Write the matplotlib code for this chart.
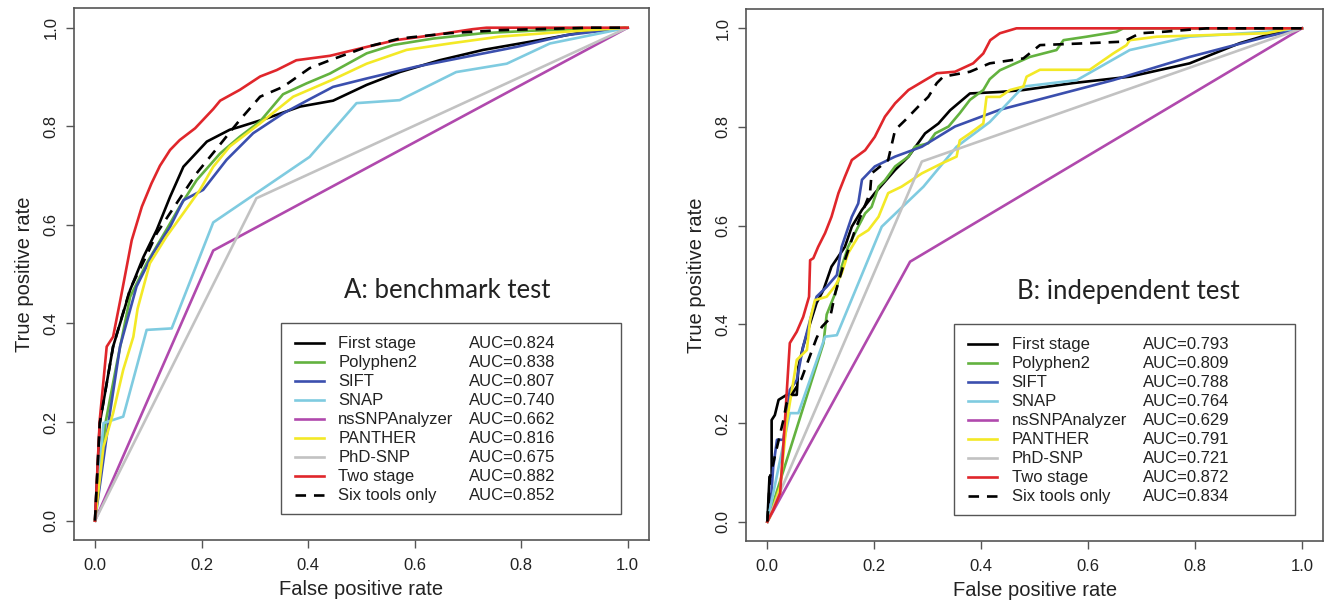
"""ROC curves for the two-stage predictor vs. single tools (benchmark and independent tests)."""

import matplotlib

matplotlib.use("Agg")

import matplotlib.pyplot as plt
from matplotlib.patches import Rectangle

plt.rcParams["font.family"] = ["Liberation Sans", "DejaVu Sans"]

METHODS = ["First stage", "Polyphen2", "SIFT", "SNAP", "nsSNPAnalyzer",
           "PANTHER", "PhD-SNP", "Two stage", "Six tools only"]
COLORS = ["black", "#63b23f", "#3b4fae", "#7fcbe0", "#b049ad",
          "#f3e926", "#c2c2c2", "#e0262b", "black"]
STYLES = ["-", "-", "-", "-", "-", "-", "-", "-", "--"]

AUC_A = [0.824, 0.838, 0.807, 0.740, 0.662, 0.816, 0.675, 0.882, 0.852]
AUC_B = [0.793, 0.809, 0.788, 0.764, 0.629, 0.791, 0.721, 0.872, 0.834]

# ---- panel A: benchmark test ----
a_first_fpr = [0, .009, .034, .066, .091, .116, .141, .166, .21, .253, .272, .322, .385, .447, .51, .572, .647, .729, .835, .922, 1]
a_first_tpr = [0, .198, .353, .468, .535, .590, .657, .718, .769, .793, .799, .816, .840, .852, .884, .910, .934, .955, .975, .992, 1]
a_poly_fpr = [0, .02, .041, .066, .097, .134, .159, .191, .235, .272, .31, .353, .397, .441, .51, .56, .635, .729, .822, 1]
a_poly_tpr = [0, .2, .319, .454, .522, .590, .637, .691, .745, .779, .81, .865, .887, .907, .948, .965, .978, .989, .994, 1]
a_sift_fpr = [0, .028, .047, .078, .109, .141, .166, .203, .247, .297, .353, .403, .447, .51, .603, .697, .791, .885, 1]
a_sift_tpr = [0, .218, .353, .475, .542, .596, .65, .671, .732, .786, .826, .855, .880, .897, .921, .941, .961, .985, 1]
a_snap_fpr = [0, .016, .053, .097, .144, .222, .403, .491, .572, .678, .773, .854, 1]
a_snap_tpr = [0, .198, .211, .387, .39, .605, .738, .847, .853, .910, .927, .968, 1]
a_nssnp_fpr = [0, .222, 1]
a_nssnp_tpr = [0, .548, 1]
a_panther_fpr = [0, .016, .034, .053, .072, .08, .103, .134, .166, .197, .222, .253, .31, .372, .447, .51, .585, .666, .76, .885, 1]
a_panther_tpr = [0, .15, .218, .306, .373, .43, .522, .576, .624, .671, .718, .759, .806, .86, .895, .927, .955, .968, .982, .992, 1]
a_phd_fpr = [0, .303, 1]
a_phd_tpr = [0, .654, 1]
a_two_fpr = [0, .009, .022, .034, .05, .069, .088, .106, .122, .141, .159, .188, .222, .235, .272, .31, .341, .378, .441, .51, .566, .635, .709, .735, 1]
a_two_tpr = [0, .205, .353, .373, .461, .569, .637, .684, .72, .752, .772, .796, .835, .852, .874, .901, .914, .934, .943, .961, .975, .985, .997, 1, 1]
a_six_fpr = [0, .009, .034, .066, .10, .116, .141, .191, .228, .272, .31, .353, .403, .441, .51, .572, .666, .76, .929, 1]
a_six_tpr = [0, .198, .353, .47, .545, .583, .624, .705, .754, .813, .86, .880, .918, .934, .961, .978, .989, .995, 1, 1]

# ---- panel B: independent test ----
b_first_fpr = [0, .004, .008, .008, .014, .021, .036, .055, .058, .067, .08, .092, .105, .12, .145, .158, .177, .201, .239, .264, .295, .32, .342, .379, .435, .479, .572, .678, .79, .884, .946, 1]
b_first_tpr = [0, .091, .091, .206, .216, .247, .257, .257, .314, .355, .402, .443, .47, .517, .557, .598, .632, .666, .713, .74, .787, .807, .834, .868, .871, .875, .889, .902, .929, .97, .99, 1]
b_poly_fpr = [0, .105, .111, .127, .139, .151, .17, .183, .195, .208, .22, .239, .264, .276, .301, .314, .339, .36, .379, .404, .416, .435, .491, .541, .554, .597, .653, .666, 1]
b_poly_tpr = [0, .362, .42, .463, .517, .557, .598, .625, .638, .679, .692, .72, .74, .76, .767, .787, .801, .828, .855, .875, .897, .915, .942, .956, .976, .983, .993, 1, 1]
b_sift_fpr = [0, .005, .011, .018, .03, .042, .055, .067, .08, .092, .111, .13, .139, .158, .17, .177, .201, .239, .289, .351, .435, .647, .79, .934, 1]
b_sift_tpr = [0, .017, .111, .166, .166, .267, .287, .355, .409, .456, .476, .50, .557, .618, .645, .693, .72, .74, .76, .801, .835, .895, .942, .983, 1]
b_snap_fpr = [0, .042, .058, .108, .13, .214, .292, .354, .416, .479, .579, .678, .79, .934, 1]
b_snap_tpr = [0, .22, .22, .375, .378, .598, .679, .76, .81, .882, .895, .956, .983, .993, 1]
b_nssnp_fpr = [0, .267, 1]
b_nssnp_tpr = [0, .527, 1]
b_panther_fpr = [0, .005, .024, .036, .049, .055, .074, .08, .089, .111, .127, .139, .151, .17, .189, .208, .226, .251, .289, .326, .354, .36, .379, .404, .41, .435, .454, .479, .485, .51, .603, .647, .672, .678, .728, .934, .978, 1]
b_panther_tpr = [0, .01, .071, .2, .287, .328, .348, .409, .449, .456, .478, .503, .544, .578, .591, .618, .666, .679, .706, .726, .74, .773, .787, .807, .861, .861, .875, .882, .902, .916, .916, .949, .966, .976, .983, .99, 1, 1]
b_phd_fpr = [0, .289, 1]
b_phd_tpr = [0, .73, 1]
b_two_fpr = [0, .011, .024, .033, .042, .055, .067, .078, .08, .086, .095, .108, .12, .133, .145, .158, .183, .201, .22, .239, .264, .295, .317, .351, .385, .404, .417, .435, .466, 1]
b_two_tpr = [0, .024, .058, .206, .362, .385, .415, .456, .53, .534, .557, .585, .618, .666, .699, .733, .753, .78, .821, .848, .875, .895, .909, .912, .929, .949, .976, .99, 1, 1]
b_six_fpr = [0, .005, .03, .036, .064, .092, .102, .117, .127, .145, .164, .192, .195, .226, .239, .258, .282, .301, .317, .329, .379, .416, .479, .51, .603, .666, .697, .741, .822, 1]
b_six_tpr = [0, .091, .206, .24, .29, .372, .395, .412, .463, .53, .591, .666, .706, .733, .794, .814, .841, .861, .889, .902, .912, .929, .939, .966, .97, .973, .99, .993, 1, 1]

CURVES_A = [(a_first_fpr, a_first_tpr), (a_poly_fpr, a_poly_tpr), (a_sift_fpr, a_sift_tpr),
            (a_snap_fpr, a_snap_tpr), (a_nssnp_fpr, a_nssnp_tpr), (a_panther_fpr, a_panther_tpr),
            (a_phd_fpr, a_phd_tpr), (a_two_fpr, a_two_tpr), (a_six_fpr, a_six_tpr)]
CURVES_B = [(b_first_fpr, b_first_tpr), (b_poly_fpr, b_poly_tpr), (b_sift_fpr, b_sift_tpr),
            (b_snap_fpr, b_snap_tpr), (b_nssnp_fpr, b_nssnp_tpr), (b_panther_fpr, b_panther_tpr),
            (b_phd_fpr, b_phd_tpr), (b_two_fpr, b_two_tpr), (b_six_fpr, b_six_tpr)]

TICKS = [0.0, 0.2, 0.4, 0.6, 0.8, 1.0]
SPINE = "#555555"


def draw_panel(ax, curves, aucs, title):
    for (fpr, tpr), color, ls in zip(curves, COLORS, STYLES):
        ax.plot(fpr, tpr, color=color, ls=ls, lw=1.9,
                dashes=(4, 3) if ls == "--" else (None, None))
    ax.set_xlim(-0.04, 1.04)
    ax.set_ylim(-0.04, 1.04)
    ax.set_xticks(TICKS)
    ax.set_yticks(TICKS)
    ax.set_xticklabels([f"{t:.1f}" for t in TICKS])
    ax.set_yticklabels([f"{t:.1f}" for t in TICKS], rotation=90, va="center")
    ax.tick_params(direction="out", length=6, width=1, color=SPINE,
                   labelsize=12, labelcolor="#222222")
    ax.tick_params(axis="x", pad=7)
    ax.tick_params(axis="y", pad=5)
    for sp in ax.spines.values():
        sp.set_color(SPINE)
        sp.set_linewidth(1.2)
    ax.set_xlabel("False positive rate", fontsize=14.5, labelpad=5, color="#222222")
    ax.set_ylabel("True positive rate", fontsize=14.5, labelpad=7, color="#222222")

    # legend box drawn by hand (R style, two text columns)
    ax.add_patch(Rectangle((0.35, 0.0136), 0.637, 0.387, fill=False,
                           ec=SPINE, lw=1.0, zorder=5))
    row0, step = 0.360, 0.0385
    for i, (name, auc) in enumerate(zip(METHODS, aucs)):
        y = row0 - i * step
        ax.plot([0.375, 0.43], [y, y], color=COLORS[i], ls=STYLES[i], lw=1.9,
                dashes=(4, 3) if STYLES[i] == "--" else (None, None), zorder=6)
        ax.text(0.457, y, name, fontsize=12, va="center", ha="left", color="#222222")
        ax.text(0.703, y, f"AUC={auc:.3f}", fontsize=12, va="center", ha="left", color="#222222")

    ax.text(0.467, 0.452, title, fontsize=18.5, family=["Lato", "DejaVu Sans"],
            ha="left", va="baseline", color="#222222")


fig = plt.figure(figsize=(13.25, 6.05), dpi=100)
ax_a = fig.add_axes([0.0556, 0.1068, 0.4342, 0.8800])
ax_b = fig.add_axes([0.5630, 0.1051, 0.4357, 0.8807])

draw_panel(ax_a, CURVES_A, AUC_A, "A: benchmark test")
draw_panel(ax_b, CURVES_B, AUC_B, "B: independent test")

fig.savefig("out.png", dpi=100, facecolor="white")
